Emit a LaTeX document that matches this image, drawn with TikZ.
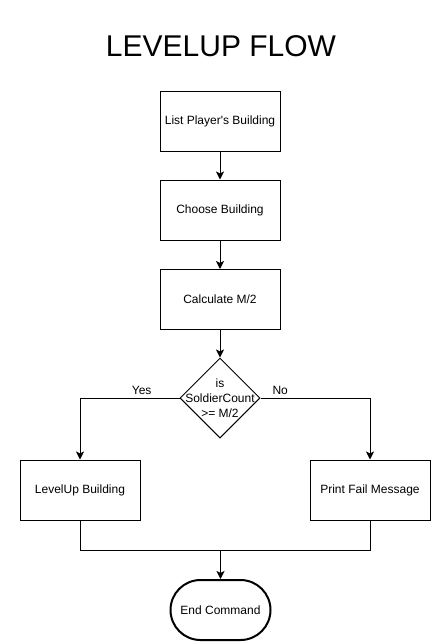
\documentclass[tikz,border=0pt]{standalone}
\usepackage{fontspec}
\setmainfont{Liberation Sans}
\usetikzlibrary{arrows.meta}
\usetikzlibrary{shapes.geometric}
\usetikzlibrary{positioning}
\tikzset{box/.style = {draw, rectangle, line width = 1pt, minimum width = 120pt,
                       minimum height = 60pt, inner sep = 0,
                       font = \fontsize{12}{15}\selectfont}}
\tikzset{decide/.style = {draw, diamond, line width = 1pt, minimum width = 80pt,
                          minimum height = 80pt, inner sep = 0}}
\tikzset{stop/.style = {draw, rectangle, rounded corners = 30pt, line width = 2pt,
                        minimum width = 100pt, minimum height = 60pt, inner sep = 0,
                        font = \fontsize{12}{15}\selectfont}}
\tikzset{flow/.style = {-{Stealth[length = 8pt, width = 8pt, inset = 2pt]}, line width = 1pt}}
\tikzset{merge/.style = {line width = 1pt}}
\tikzset{tag/.style = {font = \fontsize{12}{15}\selectfont, inner sep = 3pt}}

\begin{document}
\begin{tikzpicture}[x = 1pt, y = -1pt]
          \useasboundingbox (0, 0) rectangle (442, 642);
          \node (title) at (221, 46) {\fontsize{30}{36}\selectfont LEVELUP FLOW};
          \node [box] (list) at (220, 121) {List Player\textquotesingle s Building};
          \node [box] (choose) at (220, 210) {Choose Building};
          \node [box] (calc) at (220, 299.5) {Calculate M/2};
          \node [decide, label = {[align = center, font = \fontsize{12}{15}\selectfont]center:is\\SoldierCount\\>= M/2}]
            (check) at (220, 398) {};
          \node [box] (lvl) at (80, 490) {LevelUp Building};
          \node [box] (fail) at (370, 490) {Print Fail Message};
          \node [stop] (done) at (220.5, 610) {End Command};
          \coordinate (meet) at (220.5, 550);
          \draw [flow] (list) -- (choose);
          \draw [flow] (choose) -- (calc);
          \draw [flow] (calc) -- (check);
          \draw [flow] (check.west) -| node [tag, above, pos = 0.19] {Yes} (lvl.north);
          \draw [flow] (check.east) -| node [tag, above, pos = 0.09] {No} (fail.north);
          \draw [merge] (lvl.south) |- (meet);
          \draw [merge] (fail.south) |- (meet);
          \draw [flow] (meet) -- (done);
        \end{tikzpicture}
\end{document}
